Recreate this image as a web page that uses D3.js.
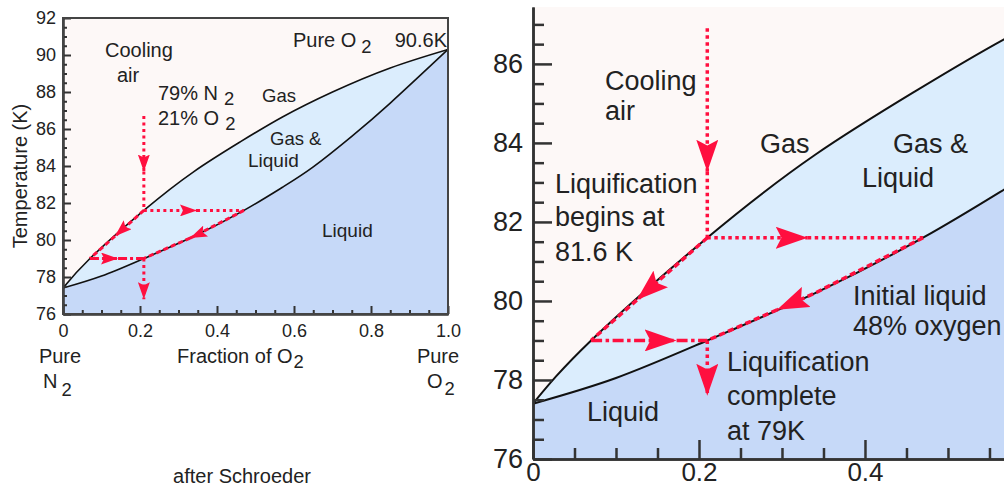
<!DOCTYPE html>
<html>
<head>
<meta charset="utf-8">
<script src="https://cdn.jsdelivr.net/npm/d3@7"></script>
<style>
body{margin:0;background:#fff;}
svg{display:block;font-family:"Liberation Sans",Arial,Helvetica,sans-serif;}
</style>
</head>
<body>
<svg id="chart" width="1004" height="488"></svg>
<script>
// phase diagram of air (N2 / O2)
var dew    = [[0,77.4],[0.07,79.0],[0.21,81.6],[0.34,83.7],[0.46,85.3],[0.57,86.65],[0.7,88.0],[0.85,89.3],[1.0,90.3]];
var bubble = [[0,77.4],[0.1,78.05],[0.21,79.0],[0.34,80.2],[0.47,81.6],[0.57,82.85],[0.65,83.95],[0.75,85.6],[0.85,87.4],[1.0,90.3]];

var tempTicks  = [76,78,80,82,84,86,88,90,92];
var fracTicks  = [0,0.2,0.4,0.6,0.8,1.0];

// cooling path of air: 21% O2
var airX = 0.21, startT = 86.9, dewHitT = 81.6, bubHitT = 79.0;
var liqX = 0.47, gasX = 0.07;

// arrow tips (x or T), one set per panel
var tipsLeft  = [83.7, 0.348, 0.135, 0.143, 0.33, 76.8];
var tipsRight = [83.27, 0.331, 0.125, 0.173, 0.294, 77.6];

var RED = "#ff0f3f", GAS = "#fdf8f7", MIX = "#dbedfd", LIQ = "#c6d9f8";
var svg = d3.select("#chart");
var defs = svg.append("defs");

function lerp(a, b, x){ return a[1] + (b[1]-a[1])*(x-a[0])/(b[0]-a[0]); }

function arrowPaths(tips, top){
	var A = [airX, dewHitT], B = [liqX, dewHitT], C = [gasX, bubHitT], D = [airX, bubHitT];
	var bm = bubble[3];
	return [
		{pts:[[airX, top],[airX, tips[0]],A], tip:1, dash:"dot"},
		{pts:[A,[tips[1], dewHitT],B], tip:1, dash:"dot"},
		{pts:[A,[tips[2], lerp(C,A,tips[2])],C], tip:1, dash:"dash"},
		{pts:[C,[tips[3], bubHitT],D], tip:1, dash:"dashdot"},
		{pts:[B,bm,[tips[4], lerp(D,bm,tips[4])],D], tip:2, dash:"dash"},
		{pts:[D,[airX, tips[5]]], tip:1, dash:"dot"}
	];
}

function panel(o){
	var x = d3.scaleLinear().domain(o.xdom).range([o.l, o.r]);
	var y = d3.scaleLinear().domain(o.ydom).range([o.b, o.t]);

	defs.append("clipPath").attr("id","clip"+o.id).append("rect")
		.attr("x",o.l).attr("y",o.t).attr("width",o.r-o.l).attr("height",o.b-o.t);
	var L = o.arrowLen, W = o.arrowWid;
	defs.append("marker").attr("id","arr"+o.id)
		.attr("markerUnits","userSpaceOnUse")
		.attr("markerWidth",L).attr("markerHeight",W)
		.attr("viewBox",(-L)+" "+(-W/2)+" "+L+" "+W)
		.attr("refX",0).attr("refY",0).attr("orient","auto")
		.append("path").attr("d","M0,0L"+(-L)+","+(-W/2)+"L"+(-L*0.82)+",0L"+(-L)+","+(W/2)+"Z")
		.attr("fill",RED);

	var g = svg.append("g");
	var pg = g.append("g").attr("clip-path","url(#clip"+o.id+")");
	pg.append("rect").attr("x",o.l).attr("y",o.t)
		.attr("width",o.r-o.l).attr("height",o.b-o.t).attr("fill",GAS);

	var area = d3.area().x(function(d){return x(d[0]);}).y0(o.b)
		.y1(function(d){return y(d[1]);}).curve(d3.curveNatural);
	var line = d3.line().x(function(d){return x(d[0]);})
		.y(function(d){return y(d[1]);}).curve(d3.curveNatural);

	pg.append("path").datum(dew).attr("d",area).attr("fill",MIX);
	pg.append("path").datum(bubble).attr("d",area).attr("fill",LIQ);
	pg.selectAll(".curve").data([dew,bubble]).enter().append("path")
		.attr("class","curve").attr("d",line)
		.attr("fill","none").attr("stroke","#111").attr("stroke-width",o.curveW);

	// red cooling path
	var seg = d3.line().x(function(d){return x(d[0]);}).y(function(d){return y(d[1]);});
	var dashes = {dot:o.dot, dash:o.dash, dashdot:o.dashdot};
	arrowPaths(o.tips, o.top).forEach(function(a){
		var first = a.pts.slice(0, a.tip+1), rest = a.pts.slice(a.tip);
		g.append("path").attr("d",seg(first)).attr("fill","none")
			.attr("stroke",RED).attr("stroke-width",o.redW)
			.attr("stroke-dasharray",dashes[a.dash])
			.attr("marker-end","url(#arr"+o.id+")");
		if(rest.length > 1){
			g.append("path").attr("d",seg(rest)).attr("fill","none")
				.attr("stroke",RED).attr("stroke-width",o.redW)
				.attr("stroke-dasharray",dashes[a.dash]);
		}
	});

	// axes, ticks point inward
	var fmt = function(d){ return d===0 ? "0" : d3.format(".1f")(d); };
	var minorY = d3.range(o.ydom[0], o.ydom[1], 0.5).filter(function(v){ return v % 2 !== 0; });
	var minorX = d3.range(0.05, o.xdom[1], 0.05).filter(function(v){ return Math.abs(v*5 - Math.round(v*5)) > 1e-6; });

	g.append("g").attr("transform","translate("+o.l+",0)")
		.call(d3.axisLeft(y).tickValues(minorY).tickSize(-o.minorLen).tickFormat("").tickSizeOuter(0));
	g.append("g").attr("transform","translate(0,"+o.b+")")
		.call(d3.axisBottom(x).tickValues(minorX).tickSize(-o.minorLen).tickFormat("").tickSizeOuter(0));
	g.append("g").attr("class","ax").attr("transform","translate("+o.l+",0)")
		.call(d3.axisLeft(y).tickValues(tempTicks.filter(function(v){return v<=o.ydom[1];}))
			.tickSize(-o.majorLen).tickPadding(o.padY).tickSizeOuter(0));
	var xa = g.append("g").attr("class","ax").attr("transform","translate(0,"+o.b+")")
		.call(d3.axisBottom(x).tickValues(fracTicks.filter(function(v){return v<=o.xdom[1];}))
			.tickSize(-o.majorLen).tickPadding(o.padX).tickFormat(fmt).tickSizeOuter(0));
	g.selectAll(".tick line").attr("stroke","#333").attr("stroke-width",o.tickW);
	g.selectAll(".domain").attr("stroke","#333").attr("stroke-width",o.axisW);
	g.selectAll(".tick text").attr("font-size",o.tickFont).attr("fill","#222")
		.attr("font-family","Liberation Sans, Arial, sans-serif");
	if(o.xFont) xa.selectAll(".tick text").attr("font-size",o.xFont);
	return g;
}

function addtext(x,y,t,size,anchor){
	return svg.append("text").attr("x",x).attr("y",y).attr("font-size",size)
		.attr("fill","#222").attr("text-anchor",anchor||"start").text(t);
}

function addsub(x,y,t,sub,size,dx,dy,anchor){
	var s = addtext(x,y,t,size,anchor);
	s.append("tspan").attr("dx",dx).attr("dy",dy).attr("font-size",size*0.92).text(sub);
	return s;
}

// left panel
panel({id:"L", l:63, r:448, t:18, b:314, xdom:[0,1], ydom:[76,92],
	curveW:1.6, redW:3, dot:"3,3.5", dash:"5,3", dashdot:"9,3,3,3",
	arrowLen:17, arrowWid:12, tips:tipsLeft, top:86.7,
	majorLen:8, minorLen:4, tickW:2, axisW:2, padY:7, padX:10, tickFont:18});
svg.append("rect").attr("x",63).attr("y",18).attr("width",385).attr("height",296)
	.attr("fill","none").attr("stroke","#444").attr("stroke-width",2);

// right panel, zoomed in
panel({id:"R", l:533, r:1004, t:7, b:459, xdom:[0,0.5675], ydom:[76,87.44],
	curveW:2, redW:3.5, dot:"3.5,3.5", dash:"6,3.5", dashdot:"11,3.5,3.5,3.5",
	arrowLen:32, arrowWid:22, tips:tipsRight, top:86.9,
	majorLen:19, minorLen:11, tickW:2.5, axisW:2.5, padY:10, padX:4, tickFont:27, xFont:26});

// left panel texts
var fs = 20;
addtext(105,57,"Cooling",fs);
addtext(117,82,"air",fs);
addsub(158,100,"79% N","2",fs,6,5);
addsub(158,125,"21% O","2",fs,6,5);
addsub(293,47,"Pure O","2",fs,5,6);
addtext(447,47,"90.6K",fs,"end");
addtext(262,102,"Gas",18.5);
addtext(270,145,"Gas &",18.5);
addtext(248,167,"Liquid",19);
addtext(322,237,"Liquid",19);
addtext(20,176,"Temperature (K)",20,"middle")
	.attr("transform","rotate(-90,20,176)").attr("dy","0.35em");
addtext(60,363,"Pure",fs,"middle");
addsub(43,388,"N","2",fs,4,8);
addsub(177,363,"Fraction of O","2",fs,1,5);
addtext(438,363,"Pure",fs,"middle");
addsub(427,388,"O","2",fs,2,7);
addtext(242,483,"after Schroeder",fs,"middle");

// right panel texts
var fr = 27;
addtext(605,90,"Cooling",fr);
addtext(605,120,"air",fr);
addtext(760,153,"Gas",fr);
addtext(893,153,"Gas &",fr);
addtext(862,187,"Liquid",fr);
addtext(555,193,"Liquification",fr);
addtext(555,226,"begins at",fr);
addtext(555,261,"81.6 K",fr);
addtext(853,305,"Initial liquid",fr);
addtext(853,335,"48% oxygen",fr);
addtext(727,371,"Liquification",fr);
addtext(727,405,"complete",fr);
addtext(727,440,"at 79K",fr);
addtext(587,421,"Liquid",fr);
</script>
</body>
</html>
